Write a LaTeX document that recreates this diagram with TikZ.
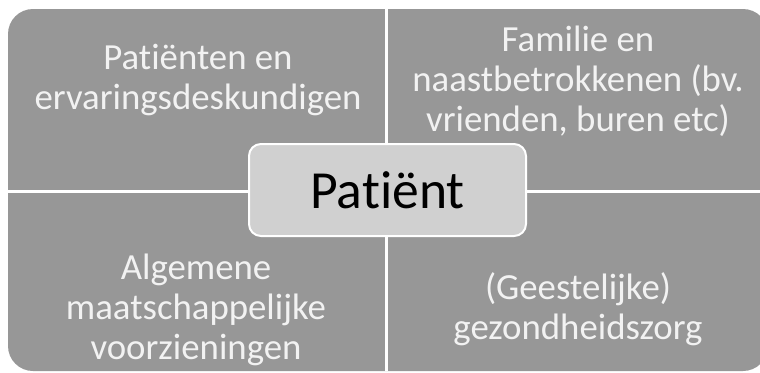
\documentclass[tikz,border=0pt]{standalone}
\usepackage{fontspec}
\setmainfont{Carlito}[Ligatures=NoCommon]

\tikzset{every picture/.style={line width=0.75pt}}
\tikzset{
  quadtext/.style={color={rgb, 255:red, 242; green, 242; blue, 242 }, align=center, font=\fontsize{27.6}{30}\selectfont},
  centerbox/.style={draw={rgb, 255:red, 255; green, 255; blue, 255 }, line width=1.5pt, fill={rgb, 255:red, 208; green, 208; blue, 208 }, rounded corners=9pt, minimum width=207.75pt, minimum height=69pt, inner sep=0pt, font=\fontsize{40.2}{44}\selectfont},
  gapline/.style={draw={rgb, 255:red, 255; green, 255; blue, 255 }, line width=2.25pt}
}

\begin{document}
\begin{tikzpicture}[x=0.75pt,y=0.75pt,yscale=-1,xscale=1]
\useasboundingbox (0,0) rectangle (760,372);

%Rounded Rect
\fill [color={rgb, 255:red, 151; green, 151; blue, 151 }, rounded corners=18.75pt] (8,9) rectangle (768,371) ;

% Gap coordinates
\coordinate (vtop) at (386.5,9);
\coordinate (vbot) at (386.5,371);
\coordinate (hleft) at (8,191.5);
\coordinate (hright) at (768,191.5);

%Straight Lines
\draw [gapline] (vtop) -- (vbot) ;
\draw [gapline] (hleft) -- (hright) ;

% Text Node
\node [quadtext] (famtext) at (578,81) {Familie en\\naastbetrokkenen (bv.\\vrienden, buren etc)};
% Text Node
\node [quadtext] (pattext) at (198,80) {Patiënten en\\ervaringsdeskundigen};
% Text Node
\node [quadtext] (algtext) at (196,310) {Algemene\\maatschappelijke\\voorzieningen};
% Text Node
\node [quadtext] (ggztext) at (578,309) {(Geestelijke)\\gezondheidszorg};

% Center Node
\node [centerbox] (patient) at (387.5,190) {Patiënt};

\end{tikzpicture}
\end{document}
